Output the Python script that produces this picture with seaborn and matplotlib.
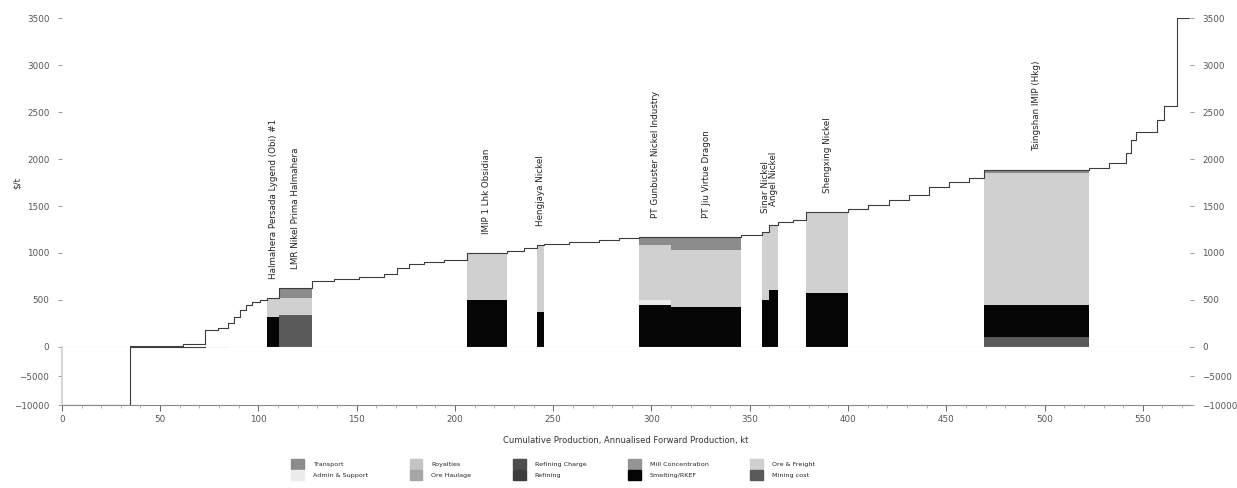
import numpy as np
import pandas as pd
import matplotlib
matplotlib.use("Agg")
import matplotlib.pyplot as plt
import seaborn as sns

# ---- cost curve: every asset as (annual production kt, cash cost $/t), sorted by cost ----
seg_width = [34.7, 27.0, 11.2, 6.6, 5.1, 3.0, 3.0, 3.0, 3.0, 4.0, 4.0,
             6.1, 16.8,
             11.0, 12.8, 12.8, 6.6, 6.0, 7.6, 10.0, 11.7,
             20.4,
             8.7, 6.6,
             3.6,
             12.8, 15.3, 10.2, 10.2,
             16.3, 35.7,
             10.2,
             3.6, 5.0,
             7.6, 6.6,
             21.4,
             10.2, 10.2, 10.2, 10.2, 10.2, 10.2, 7.6,
             53.6,
             10.2, 8.7, 2.5, 2.5, 10.7, 3.6, 6.6, 6.0]
seg_cost = [-10000, 10, 30, 180, 205, 260, 320, 390, 450, 480, 505,
            521, 628,
            700, 720, 745, 780, 840, 880, 905, 930,
            1000,
            1020, 1050,
            1085,
            1100, 1120, 1140, 1155,
            1170, 1172,
            1190,
            1223, 1298,
            1330, 1350,
            1437,
            1470, 1510, 1560, 1620, 1700, 1760, 1800,
            1883,
            1905, 1960, 2060, 2200, 2290, 2420, 2560, 3500]

# ---- highlighted projects: segment index and cost breakdown ($/t) ----
proj_names = ["Halmahera Persada Lygend (Obi) #1", "LMR Nikel Prima Halmahera",
              "IMIP 1 Lhk Obsidian", "Hengjaya Nickel",
              "PT Gunbuster Nickel Industry", "PT Jiu Virtue Dragon",
              "Sinar Nickel", "Angel Nickel", "Shengxing Nickel",
              "Tsingshan IMIP (Hkg)"]
proj_seg = [11, 12, 21, 24, 29, 30, 32, 33, 36, 44]

components = ["Transport", "Admin & Support", "Royalties", "Ore Haulage",
              "Refining Charge", "Refining", "Mill Concentration", "Smelting/RKEF",
              "Ore & Freight", "Mining cost"]
comp_colors = ["#8c8c8c", "#ececec", "#c4c4c4", "#a6a6a6",
               "#4d4d4d", "#3d3d3d", "#949494", "#050505",
               "#d0d0d0", "#5a5a5a"]

# stacking order from the bottom up
stack_order = ["Mining cost", "Smelting/RKEF", "Admin & Support", "Ore & Freight", "Transport"]
proj_mining   = [0,   340,   0,   0,   0,   0,   0,   0,   0, 106]
proj_smelting = [319, 0,   500, 372, 447, 426, 500, 606, 575, 340]
proj_admin    = [0,   0,     0,   0,  53,   0,   0,   0,   0,   0]
proj_ore      = [202, 181, 500, 713, 585, 608, 723, 692, 862, 1407]
proj_transp   = [0,   107,   0,   0,  85, 138,   0,   0,   0,  30]

# ---- derived geometry from the data ----
left = np.concatenate([[0], np.cumsum(seg_width)[:-1]])
curve = pd.DataFrame({"x": np.append(left, left[-1] + seg_width[-1]),
                      "cost": np.append(seg_cost, seg_cost[-1])})

sns.set_theme(style="white")
plt.rcParams["font.family"] = ["DejaVu Sans"]

fig = plt.figure(figsize=(12.37, 4.88), dpi=100)
ax = fig.add_axes([0.050, 0.289, 0.912, 0.674])
axb = fig.add_axes([0.050, 0.170, 0.912, 0.119], sharex=ax)

xmax = 574
for a in (ax, axb):
    sns.lineplot(data=curve, x="x", y="cost", ax=a, drawstyle="steps-post",
                 estimator=None, sort=False, color="#3c3c3c", linewidth=0.8)
    a.set_xlim(0, xmax)
    a.set_xlabel("")
    a.set_ylabel("")

ax.set_ylim(0, 3500)
axb.set_ylim(-10000, 0)

# stacked bars for highlighted projects
stacks = {"Mining cost": proj_mining, "Smelting/RKEF": proj_smelting,
          "Admin & Support": proj_admin, "Ore & Freight": proj_ore,
          "Transport": proj_transp}
cmap = dict(zip(components, comp_colors))
for i, s in enumerate(proj_seg):
    bottom = 0
    for comp in stack_order:
        h = stacks[comp][i]
        if h > 0:
            ax.bar(left[s], h, width=seg_width[s], bottom=bottom, align="edge",
                   color=cmap[comp], edgecolor="none", zorder=1)
        bottom += h
    ax.text(left[s] + seg_width[s] / 2, seg_cost[s] + 200, proj_names[i],
            rotation=90, ha="center", va="bottom", fontsize=6.3, color="#222222")

# axes styling
for sp in ax.spines.values():
    sp.set_visible(False)
ax.spines["bottom"].set_visible(True)
ax.spines["bottom"].set_color("#c8c8c8")
ax.spines["bottom"].set_linewidth(0.8)
ax.tick_params(axis="x", bottom=False, labelbottom=False)
ax.set_yticks(np.arange(0, 3501, 500))
ax.tick_params(axis="y", left=True, length=3, width=0.6, color="#888888",
               labelsize=6.3, labelcolor="#555555", pad=6)
ax.set_ylabel("$/t", fontsize=6.3, color="#333333", labelpad=4)

axr = ax.twinx()
axr.set_ylim(0, 3500)
axr.set_yticks(np.arange(0, 3501, 500))
for sp in axr.spines.values():
    sp.set_visible(False)
axr.tick_params(axis="y", right=True, length=3, width=0.6, color="#888888",
                labelsize=6.3, labelcolor="#555555", pad=6)

for sp in axb.spines.values():
    sp.set_visible(False)
axb.spines["left"].set_visible(True)
axb.spines["left"].set_color("#d0d0d0")
axb.spines["bottom"].set_visible(True)
axb.spines["bottom"].set_color("#8a8a8a")
axb.spines["bottom"].set_linewidth(0.8)
axb.set_yticks([-10000, -5000])
axb.tick_params(axis="y", left=True, length=3, width=0.6, color="#888888",
                labelsize=6.3, labelcolor="#555555", pad=6)
axb.set_xticks(np.arange(0, 551, 50))
axb.set_xticks(np.arange(0, 571, 10), minor=True)
axb.tick_params(axis="x", which="major", bottom=True, length=4, width=0.7,
                color="#666666", labelsize=6.3, labelcolor="#555555")
axb.tick_params(axis="x", which="minor", bottom=True, length=2, width=0.5,
                color="#999999")
axb.set_xlabel("Cumulative Production, Annualised Forward Production, kt",
               fontsize=6, color="#333333", labelpad=8)

axbr = axb.twinx()
axbr.set_ylim(-10000, 0)
axbr.set_yticks([-10000, -5000])
for sp in axbr.spines.values():
    sp.set_visible(False)
axbr.tick_params(axis="y", right=True, length=3, width=0.6, color="#888888",
                 labelsize=6.3, labelcolor="#555555", pad=6)

# legend of cost components
handles = [plt.Rectangle((0, 0), 1, 1, color=c) for c in comp_colors]
fig.legend(handles, components, loc="lower center", bbox_to_anchor=(0.447, 0.005),
           ncol=5, frameon=False, fontsize=4.6, handlelength=2.0, handleheight=2.0,
           columnspacing=6.5, labelspacing=0.15, handletextpad=1.4)

fig.savefig("out.png", dpi=100)
